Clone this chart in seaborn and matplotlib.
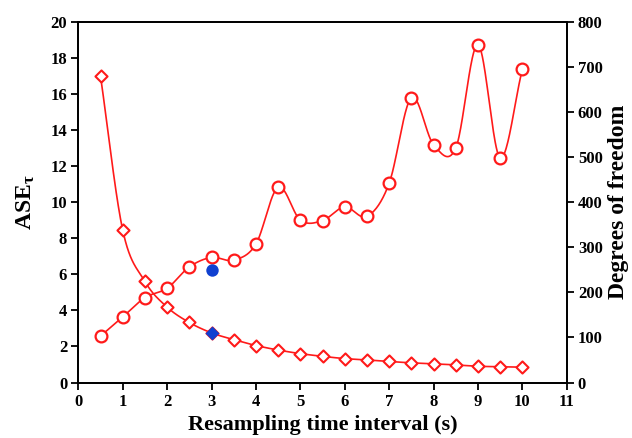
import numpy as np
import matplotlib
matplotlib.use("Agg")
import matplotlib.pyplot as plt
import seaborn as sns
import pandas as pd

# Resampling intervals (s)
interval = [0.5, 1, 1.5, 2, 2.5, 3, 3.5, 4, 4.5, 5, 5.5, 6, 6.5, 7, 7.5, 8, 8.5, 9, 9.5, 10]
# ASE_tau (left axis)
ase = [2.57, 3.63, 4.7, 5.22, 6.4, 6.93, 6.78, 7.67, 10.82, 9.0, 8.97, 9.73, 9.2,
       11.03, 15.78, 13.18, 12.98, 18.72, 12.45, 17.35]
# Degrees of freedom (right axis)
dof = [679, 338, 224, 167, 133, 110, 95, 82, 72, 64, 58, 53, 50, 46.6, 43.6, 41.5,
       39, 36, 35, 34]
# Highlighted interval
sel_interval = [3]
sel_ase = [6.26]
sel_dof = [110]

RED = "#ff1a1a"
BLUE = "#1040d0"

sns.set_theme(style="white")
plt.rcParams["font.family"] = ["Liberation Serif", "DejaVu Serif"]
plt.rcParams["font.weight"] = "bold"
plt.rcParams["axes.labelweight"] = "bold"
plt.rcParams["text.color"] = "black"
plt.rcParams["axes.labelcolor"] = "black"
plt.rcParams["xtick.color"] = "black"
plt.rcParams["ytick.color"] = "black"
plt.rcParams["mathtext.fontset"] = "custom"
plt.rcParams["mathtext.rm"] = "Liberation Serif:bold"
plt.rcParams["mathtext.it"] = "Liberation Serif:bold"
plt.rcParams["mathtext.bf"] = "Liberation Serif:bold"


def smooth(x, y, n=40):
    """Catmull-Rom curve through the given points."""
    x = np.asarray(x, float)
    y = np.asarray(y, float)
    px = np.concatenate([[2 * x[0] - x[1]], x, [2 * x[-1] - x[-2]]])
    py = np.concatenate([[2 * y[0] - y[1]], y, [2 * y[-1] - y[-2]]])
    xs, ys = [], []
    t = np.linspace(0, 1, n, endpoint=False)
    for i in range(1, len(px) - 2):
        for p, out in ((px, xs), (py, ys)):
            p0, p1, p2, p3 = p[i - 1], p[i], p[i + 1], p[i + 2]
            out.append(0.5 * ((2 * p1) + (-p0 + p2) * t
                              + (2 * p0 - 5 * p1 + 4 * p2 - p3) * t ** 2
                              + (-p0 + 3 * p1 - 3 * p2 + p3) * t ** 3))
    xs.append([x[-1]])
    ys.append([y[-1]])
    return np.concatenate(xs), np.concatenate(ys)


df = pd.DataFrame({"interval": interval, "ase": ase, "dof": dof})

fig = plt.figure(figsize=(6.32, 4.38), dpi=100)
ax = fig.add_axes([0.1239, 0.1267, 0.7728, 0.8242])
ax2 = ax.twinx()

# ASE curve with hollow circles
sx, sy = smooth(interval, ase)
ax.plot(sx, sy, color=RED, lw=1.2, zorder=2)
sns.scatterplot(data=df, x="interval", y="ase", ax=ax, marker="o", s=72,
                facecolor="white", edgecolor=RED, linewidth=1.6, zorder=3)
sns.scatterplot(x=sel_interval, y=sel_ase, ax=ax, marker="o", s=80,
                color=BLUE, edgecolor=BLUE, linewidth=0, zorder=4)

# Degrees of freedom curve with hollow diamonds
dx, dy = smooth(interval, dof)
ax2.plot(dx, dy, color=RED, lw=1.2, zorder=2)
sns.scatterplot(data=df, x="interval", y="dof", ax=ax2, marker="D", s=38,
                facecolor="white", edgecolor=RED, linewidth=1.5, zorder=3)
sns.scatterplot(x=sel_interval, y=sel_dof, ax=ax2, marker="D", s=50,
                color=BLUE, edgecolor=BLUE, linewidth=0, zorder=4)

ax.set_xlim(0, 11)
ax.set_ylim(0, 20)
ax2.set_ylim(0, 800)
ax.set_xticks(range(0, 12))
ax.set_yticks(range(0, 21, 2))
ax2.set_yticks(range(0, 801, 100))

for a in (ax, ax2):
    for s in a.spines.values():
        s.set_color("black")
        s.set_linewidth(1.3)
    a.tick_params(direction="out", length=5, width=1.3, colors="black",
                  labelsize=12, pad=3)
    for lbl in a.get_xticklabels() + a.get_yticklabels():
        lbl.set_fontweight("bold")
ax.tick_params(axis="x", bottom=True, top=False)
ax.tick_params(axis="y", left=True, right=False)
ax2.tick_params(axis="y", right=True, left=False)
ax.grid(False)
ax2.grid(False)

ax.set_xlabel("Resampling time interval (s)", fontsize=16, fontweight="bold",
              color="black", labelpad=4)
ax.set_ylabel(r"ASE$_{\tau}$", fontsize=17, fontweight="bold",
              color="black", labelpad=10)
ax2.set_ylabel("Degrees of freedom", fontsize=17, fontweight="bold",
               color="black", labelpad=4)

fig.savefig("out.png", dpi=100, facecolor="white")
